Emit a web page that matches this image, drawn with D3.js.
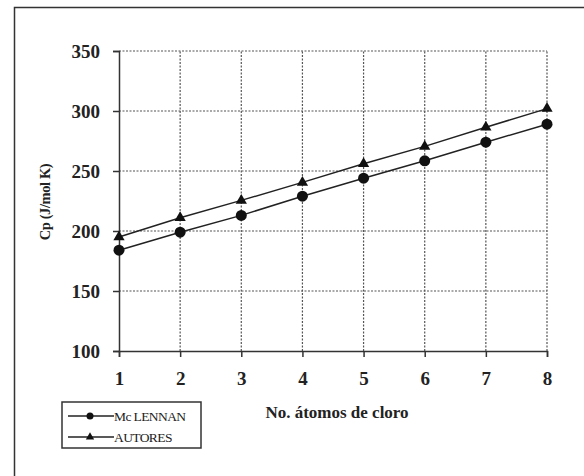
<!DOCTYPE html>
<html>
<head>
<meta charset="utf-8">
<script src="https://cdn.jsdelivr.net/npm/d3@7"></script>
<style>
  body { margin: 0; background: #fff; }
  svg { display: block; }
  svg text { font-family: "Liberation Serif", "Times New Roman", "DejaVu Serif", serif; }
</style>
</head>
<body>
<div id="canva"></div>
<script>
const atoms = [1, 2, 3, 4, 5, 6, 7, 8];
const mcLennan = [184, 199, 213, 229, 244, 258.5, 274, 289];
const autores = [195, 211, 225.5, 240.5, 256, 270.5, 286.5, 302];
const yTicks = [100, 150, 200, 250, 300, 350];
const seriesNames = ["Mc LENNAN", "AUTORES"];

const width = 584;
const height = 476;
const margin = { top: 51, right: 37, bottom: 125, left: 119 };

const svg = d3.select("#canva").append("svg")
    .attr("width", width)
    .attr("height", height);

// outer frame (only left and top edges show)
svg.append("path")
    .attr("d", `M14.5,${height} L14.5,7.5 L${width},7.5`)
    .attr("fill", "none")
    .attr("stroke", "#333")
    .attr("stroke-width", 1.5);

const x = d3.scaleLinear()
    .domain([1, 8])
    .range([margin.left, width - margin.right]);

const y = d3.scaleLinear()
    .domain([100, 350])
    .range([height - margin.bottom, margin.top]);

// grid
svg.append("g")
    .selectAll("line")
    .data(yTicks.slice(1))
    .join("line")
        .attr("x1", x(1))
        .attr("x2", x(8))
        .attr("y1", d => y(d))
        .attr("y2", d => y(d))
        .attr("stroke", "#555")
        .attr("stroke-width", 1.2)
        .attr("stroke-dasharray", "2,1.5");

svg.append("g")
    .selectAll("line")
    .data(atoms.slice(1))
    .join("line")
        .attr("x1", d => x(d))
        .attr("x2", d => x(d))
        .attr("y1", y(100))
        .attr("y2", y(350))
        .attr("stroke", "#555")
        .attr("stroke-width", 1.2)
        .attr("stroke-dasharray", "2,1.5");

function styleAxis(g) {
    g.attr("font-family", null);
    g.select(".domain").attr("stroke", "#333").attr("stroke-width", 1.5);
    g.selectAll(".tick line").attr("stroke", "#333").attr("stroke-width", 1.5);
    g.selectAll("text")
        .attr("font-size", "19px")
        .attr("font-weight", "bold")
        .attr("fill", "#222");
}

function yAxis(g) {
    g.attr("transform", `translate(${x(1)}, 0)`)
        .call(d3.axisLeft(y).tickValues(yTicks).tickSize(6).tickPadding(13));
    styleAxis(g);
}

function xAxis(g) {
    g.attr("transform", `translate(0, ${y(100)})`)
        .call(d3.axisBottom(x).tickValues(atoms).tickFormat(d3.format("d")).tickSize(6).tickPadding(15));
    styleAxis(g);
}

svg.append("g").call(yAxis);
svg.append("g").call(xAxis);

// series
const line = d3.line()
    .x((d, i) => x(atoms[i]))
    .y(d => y(d));

svg.append("path")
    .datum(mcLennan)
    .attr("d", line)
    .attr("fill", "none")
    .attr("stroke", "#222")
    .attr("stroke-width", 1.5);

svg.append("path")
    .datum(autores)
    .attr("d", line)
    .attr("fill", "none")
    .attr("stroke", "#222")
    .attr("stroke-width", 1.5);

svg.append("g")
    .selectAll("circle")
    .data(mcLennan)
    .join("circle")
        .attr("cx", (d, i) => x(atoms[i]))
        .attr("cy", d => y(d))
        .attr("r", 5.5)
        .attr("fill", "#111");

const tri = d3.symbol().type(d3.symbolTriangle).size(55);

svg.append("g")
    .selectAll("path")
    .data(autores)
    .join("path")
        .attr("d", tri)
        .attr("transform", (d, i) => `translate(${x(atoms[i])}, ${y(d)})`)
        .attr("fill", "#111");

// axis titles
svg.append("text")
    .attr("text-anchor", "middle")
    .attr("transform", "translate(50, 202) rotate(-90)")
    .text("Cp (J/mol K)")
    .style("font-size", "14.5px")
    .style("font-weight", "bold")
    .attr("letter-spacing", "-0.4")
    .attr("fill", "#222");

svg.append("text")
    .attr("text-anchor", "middle")
    .attr("x", 337)
    .attr("y", 418)
    .text("No. átomos de cloro")
    .style("font-size", "17px")
    .style("font-weight", "bold")
    .attr("fill", "#222");

// legend
const legend = svg.append("g");

legend.append("rect")
    .attr("x", 62)
    .attr("y", 402)
    .attr("width", 139)
    .attr("height", 46)
    .attr("fill", "#fff")
    .attr("stroke", "#333")
    .attr("stroke-width", 1.5);

const rows = legend.selectAll("g")
    .data(seriesNames)
    .join("g")
        .attr("transform", (d, i) => `translate(0, ${416 + i * 21})`);

rows.append("line")
    .attr("x1", 68)
    .attr("x2", 114)
    .attr("stroke", "#222")
    .attr("stroke-width", 1.3);

rows.filter((d, i) => i === 0).append("circle")
    .attr("cx", 90)
    .attr("r", 3.5)
    .attr("fill", "#111");

rows.filter((d, i) => i === 1).append("path")
    .attr("d", d3.symbol().type(d3.symbolTriangle).size(30))
    .attr("transform", "translate(90, 0)")
    .attr("fill", "#111");

rows.append("text")
    .attr("x", 114)
    .attr("y", 5)
    .text(d => d)
    .style("font-size", "13.5px")
    .attr("letter-spacing", "-0.6")
    .attr("fill", "#222");
</script>
</body>
</html>
